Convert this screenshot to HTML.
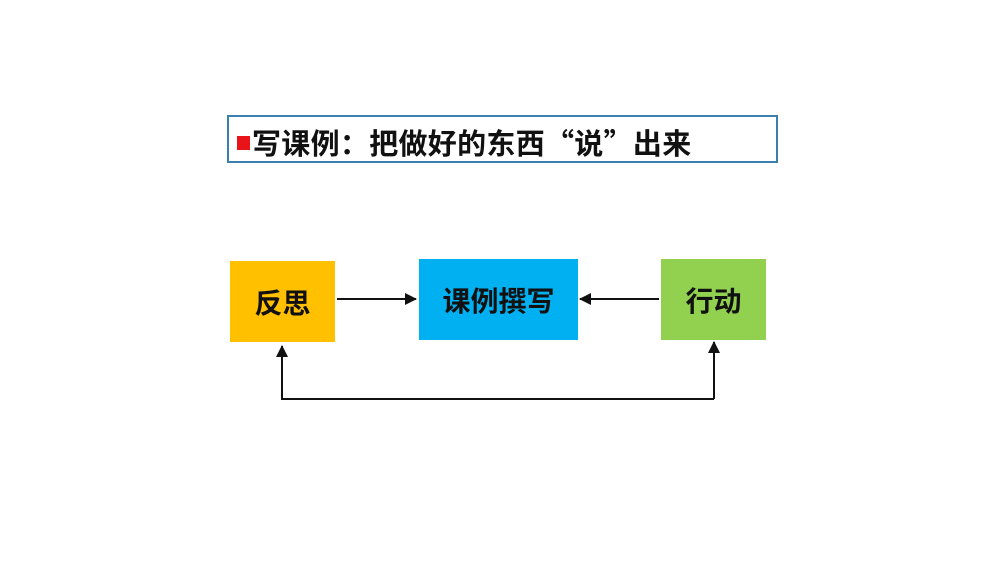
<!DOCTYPE html>
<html><head><meta charset="utf-8"><style>
body{margin:0;width:1000px;height:562px;background:#fff;position:relative;overflow:hidden;font-family:"Liberation Sans","Noto Sans CJK SC",sans-serif;}
.t{position:absolute;left:227px;top:115px;width:547px;height:44px;border:2px solid #3a7fae;}
.sq{position:absolute;left:237px;top:136px;width:13px;height:14px;background:#e8141a;}
.tt{position:absolute;left:252px;top:123px;font-family:"Noto Sans CJK SC",sans-serif;font-size:29px;font-weight:bold;color:#111;line-height:38px;white-space:nowrap;letter-spacing:0.3px}
.b{position:absolute;display:flex;align-items:center;justify-content:center;font-family:"Noto Sans CJK SC",sans-serif;font-weight:bold;font-size:28px;color:#111;}
</style></head><body>
<div class="t"></div><div class="sq"></div>
<div class="tt">写课例：把做好的东西“说”出来</div>
<div class="b" style="left:230px;top:261px;width:105px;height:81px;background:#ffc000">反思</div>
<div class="b" style="left:419px;top:259px;width:159px;height:81px;background:#00b0f0">课例撰写</div>
<div class="b" style="left:661px;top:259px;width:105px;height:81px;background:#92d050">行动</div>
<svg width="1000" height="562" style="position:absolute;left:0;top:0">
<defs><marker id="a" markerWidth="12" markerHeight="12" refX="11" refY="6" orient="auto" markerUnits="userSpaceOnUse"><path d="M0,0 L12,6 L0,12 z" fill="#111"/></marker></defs>
<g stroke="#111" stroke-width="2" fill="none">
<line x1="337" y1="299" x2="416" y2="299" marker-end="url(#a)"/>
<line x1="659" y1="299" x2="580" y2="299" marker-end="url(#a)"/>
<polyline points="714,399 282,399 282,346" marker-end="url(#a)"/>
<line x1="714" y1="399" x2="714" y2="342" marker-end="url(#a)"/>
</g></svg>
</body></html>
